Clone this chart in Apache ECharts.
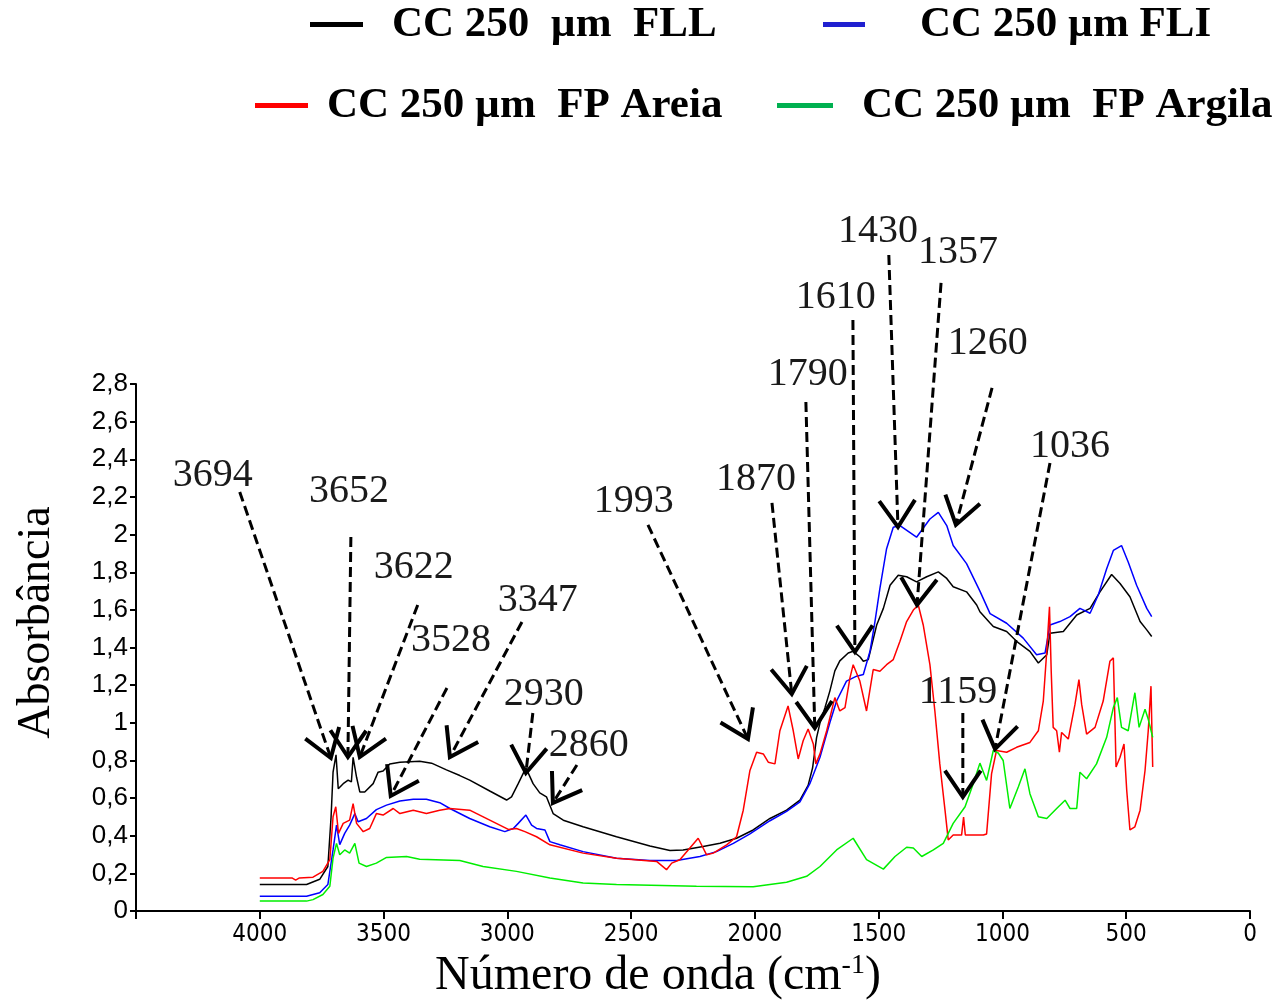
<!DOCTYPE html>
<html>
<head>
<meta charset="utf-8">
<title>Absorbância - CC 250 µm</title>
<script src="https://cdn.jsdelivr.net/npm/echarts@6/dist/echarts.min.js"></script>
<style>
  html, body { margin: 0; padding: 0; background: #fff; }
  #chart { width: 1277px; height: 1005px; }
</style>
</head>
<body>
<div id="chart"></div>
<script>
// nomes das séries (legenda)
const seriesNames = ['CC 250  µm  FLL', 'CC 250 µm FLI', 'CC 250 µm  FP Areia', 'CC 250 µm  FP Argila']

// [número de onda, absorbância]
const fll = [[4000,0.141],[3811,0.141],[3758,0.169],[3725,0.237],[3712,0.50],[3704,0.738],[3692,0.83],[3683,0.65],[3663,0.677],[3643,0.696],[3630,0.686],[3623,0.817],[3609,0.711],[3596,0.633],[3576,0.633],[3542,0.677],[3522,0.738],[3502,0.744],[3475,0.782],[3434,0.791],[3354,0.796],[3306,0.786],[3246,0.750],[3192,0.72],[3152,0.696],[3071,0.638],[3003,0.590],[2983,0.607],[2956,0.677],[2925,0.761],[2896,0.677],[2869,0.628],[2842,0.607],[2815,0.518],[2774,0.483],[2694,0.448],[2559,0.395],[2424,0.346],[2343,0.322],[2290,0.325],[2209,0.343],[2141,0.36],[2074,0.387],[2007,0.431],[1939,0.492],[1872,0.536],[1818,0.589],[1785,0.668],[1767,0.76],[1751,0.92],[1737,1.0],[1717,1.08],[1697,1.17],[1677,1.276],[1657,1.329],[1623,1.371],[1603,1.38],[1575,1.35],[1562,1.327],[1542,1.336],[1508,1.52],[1481,1.608],[1454,1.731],[1421,1.784],[1387,1.776],[1347,1.749],[1306,1.776],[1259,1.802],[1225,1.767],[1199,1.723],[1145,1.696],[1104,1.626],[1091,1.59],[1050,1.53],[1037,1.512],[983,1.485],[943,1.433],[889,1.38],[855,1.318],[821,1.362],[808,1.476],[754,1.485],[700,1.573],[646,1.608],[606,1.696],[559,1.788],[525,1.74],[485,1.67],[444,1.538],[417,1.494],[397,1.459]]

const fli = [[4000,0.079],[3811,0.079],[3758,0.097],[3725,0.141],[3704,0.325],[3690,0.457],[3677,0.353],[3657,0.413],[3637,0.457],[3616,0.518],[3603,0.475],[3569,0.492],[3529,0.539],[3488,0.563],[3434,0.585],[3380,0.594],[3327,0.594],[3273,0.576],[3232,0.545],[3152,0.492],[3071,0.448],[3010,0.422],[2976,0.439],[2956,0.466],[2925,0.510],[2902,0.457],[2882,0.439],[2848,0.431],[2828,0.369],[2788,0.352],[2694,0.316],[2559,0.281],[2424,0.269],[2316,0.269],[2222,0.290],[2155,0.316],[2087,0.360],[2020,0.410],[1939,0.480],[1872,0.53],[1818,0.580],[1778,0.677],[1737,0.817],[1697,1.002],[1670,1.116],[1630,1.222],[1589,1.248],[1562,1.257],[1535,1.38],[1515,1.538],[1495,1.714],[1468,1.925],[1441,2.039],[1414,2.048],[1347,1.986],[1293,2.083],[1259,2.118],[1225,2.048],[1199,1.942],[1145,1.846],[1091,1.70],[1050,1.58],[983,1.529],[916,1.450],[862,1.362],[828,1.371],[808,1.520],[768,1.538],[727,1.564],[687,1.608],[646,1.582],[613,1.679],[579,1.819],[552,1.916],[519,1.942],[492,1.854],[458,1.731],[417,1.608],[397,1.564]]

const fpAreia = [[4000,0.176],[3870,0.176],[3855,0.165],[3840,0.176],[3785,0.18],[3745,0.211],[3717,0.273],[3704,0.501],[3693,0.554],[3682,0.413],[3663,0.466],[3637,0.483],[3623,0.571],[3609,0.466],[3582,0.422],[3556,0.439],[3529,0.518],[3502,0.510],[3461,0.545],[3434,0.518],[3380,0.536],[3327,0.518],[3273,0.536],[3232,0.545],[3152,0.536],[3071,0.483],[2996,0.434],[2963,0.439],[2929,0.422],[2882,0.395],[2828,0.352],[2694,0.308],[2559,0.281],[2397,0.264],[2357,0.220],[2336,0.255],[2303,0.273],[2229,0.387],[2195,0.299],[2168,0.308],[2114,0.352],[2074,0.395],[2047,0.536],[2020,0.747],[1993,0.844],[1966,0.835],[1946,0.791],[1919,0.782],[1899,0.958],[1866,1.09],[1845,0.958],[1825,0.808],[1805,0.905],[1785,0.967],[1764,0.888],[1754,0.782],[1737,0.835],[1710,0.958],[1677,1.134],[1657,1.063],[1636,1.081],[1616,1.239],[1603,1.309],[1576,1.222],[1549,1.063],[1522,1.283],[1495,1.274],[1468,1.309],[1441,1.336],[1414,1.433],[1387,1.538],[1360,1.599],[1340,1.626],[1320,1.52],[1293,1.309],[1273,1.063],[1253,0.782],[1232,0.536],[1219,0.378],[1199,0.404],[1165,0.404],[1157,0.50],[1150,0.404],[1118,0.404],[1077,0.404],[1064,0.41],[1044,0.729],[1024,0.853],[983,0.844],[943,0.870],[889,0.896],[855,0.958],[835,1.116],[821,1.38],[810,1.617],[803,1.274],[795,0.976],[781,0.958],[770,0.844],[761,0.949],[734,0.914],[707,1.098],[691,1.230],[680,1.098],[660,0.940],[626,0.976],[593,1.116],[566,1.327],[552,1.345],[541,0.765],[525,0.817],[509,0.888],[498,0.642],[485,0.431],[465,0.448],[444,0.536],[424,0.747],[411,0.958],[400,1.195],[393,0.765]]

const fpArgila = [[4000,0.053],[3811,0.053],[3785,0.061],[3745,0.088],[3717,0.132],[3704,0.281],[3690,0.36],[3677,0.299],[3657,0.325],[3637,0.308],[3616,0.36],[3599,0.255],[3569,0.237],[3529,0.255],[3488,0.285],[3407,0.29],[3354,0.276],[3192,0.269],[3098,0.237],[2963,0.211],[2828,0.176],[2694,0.149],[2559,0.141],[2236,0.132],[2007,0.129],[1872,0.153],[1791,0.185],[1737,0.237],[1670,0.325],[1603,0.387],[1549,0.273],[1481,0.223],[1434,0.290],[1387,0.339],[1360,0.335],[1326,0.29],[1279,0.325],[1239,0.36],[1199,0.466],[1151,0.554],[1118,0.677],[1091,0.786],[1064,0.694],[1037,0.853],[1017,0.84],[997,0.8],[970,0.545],[936,0.659],[909,0.756],[889,0.624],[855,0.501],[821,0.492],[781,0.545],[747,0.589],[727,0.545],[700,0.545],[687,0.738],[660,0.703],[620,0.782],[579,0.923],[552,1.081],[536,1.134],[519,0.976],[492,0.958],[465,1.160],[448,0.976],[424,1.072],[411,1.019],[393,0.923]]

// bandas marcadas com setas: texto, posição do texto, início da seta, ponta da seta
const peakLabels = ['3694','3652','3622','3528','3347','2930','2860','1993','1870','1790','1610','1430','1357','1260','1036','1159']
const labelPos = [[4190,2.320],[3640,2.231],[3378,1.830],[3228,1.445],[2877,1.656],[2853,1.165],[2671,0.896],[2489,2.178],[1996,2.294],[1786,2.848],[1673,3.254],[1503,3.602],[1180,3.491],[1059,3.011],[727,2.473],[1180,1.171]]
const arrowFrom = [[4081,2.231],[3632,1.993],[3362,1.635],[3244,1.197],[2941,1.545],[2897,1.065],[2719,0.791],[2432,2.057],[1931,2.173],[1794,2.705],[1604,3.138],[1459,3.480],[1248,3.333],[1042,2.779],[808,2.383],[1160,1.065]]
const arrowTo = [[3713,0.828],[3644,0.833],[3596,0.833],[3471,0.628],[3232,0.833],[2925,0.749],[2816,0.591],[2028,0.928],[1851,1.165],[1758,0.986],[1596,1.387],[1422,2.046],[1345,1.635],[1188,2.057],[1030,0.875],[1160,0.622]]

const xTicks = [0, 500, 1000, 1500, 2000, 2500, 3000, 3500, 4000]

const serif = '"Liberation Serif", "Times New Roman", serif'
const narrow = '"Liberation Sans Narrow", "DejaVu Sans Condensed", "Liberation Sans", Arial, sans-serif'

function renderPeak(params, api) {
  const lab = api.coord([api.value(0), api.value(1)])
  const s = api.coord([api.value(2), api.value(3)])
  const t = api.coord([api.value(4), api.value(5)])
  const dx = t[0] - s[0], dy = t[1] - s[1]
  const len = Math.sqrt(dx * dx + dy * dy)
  const bx = -dx / len, by = -dy / len
  const a = 34 * Math.PI / 180, L = 32
  const arm = sg => [
    t[0] + L * (bx * Math.cos(a) - sg * by * Math.sin(a)),
    t[1] + L * (sg * bx * Math.sin(a) + by * Math.cos(a))
  ]
  return {
    type: 'group',
    children: [
      {type: 'line', shape: {x1: s[0], y1: s[1], x2: t[0], y2: t[1]},
        style: {stroke: '#000', lineWidth: 3, lineDash: [10, 5]}},
      {type: 'polyline', shape: {points: [arm(1), t, arm(-1)]},
        style: {stroke: '#000', lineWidth: 4, fill: 'none', lineJoin: 'miter'}},
      {type: 'text', x: lab[0], y: lab[1],
        style: {text: peakLabels[params.dataIndex], fill: '#1a1a1a', font: '40px ' + serif,
          align: 'center', verticalAlign: 'middle'}}
    ]
  }
}

function legendItem(idx, left, top, w, gap, color) {
  return {
    data: [{name: seriesNames[idx], itemStyle: {color: color}}],
    left: left, top: top,
    icon: 'rect', itemWidth: w, itemHeight: 5,
    selectedMode: false,
    textStyle: {fontFamily: serif, fontWeight: 'bold', fontSize: 43, color: '#000', padding: [0, 0, 0, gap]}
  }
}

const chart = echarts.init(document.getElementById('chart'))
const peakData = peakLabels.map((p, i) => labelPos[i].concat(arrowFrom[i], arrowTo[i]))

chart.setOption({
  backgroundColor: '#fff',
  animation: false,
  legend: [
    legendItem(0, 305, -2, 53, 24, '#000'),
    legendItem(1, 818, -2, 42, 50, '#2020d0'),
    legendItem(2, 250, 79, 53, 14, '#ff0000'),
    legendItem(3, 772, 79, 56, 24, '#00b050')
  ],
  grid: [
    {left: 136, right: 27, top: 384, bottom: 90},
    {left: 136, right: 27, top: 156.43, bottom: 90}
  ],
  xAxis: [
    {
      type: 'value', gridIndex: 0, min: 0, max: 4500, interval: 500, inverse: true,
      name: 'Número de onda (cm{sup|-1})', nameLocation: 'middle', nameGap: 35,
      nameTextStyle: {fontFamily: serif, fontSize: 48, color: '#000', padding: [0, 70, 0, 0],
        rich: {sup: {fontFamily: serif, fontSize: 28, verticalAlign: 'top', padding: [0, 0, 14, 0]}}},
      splitLine: {show: false},
      axisLine: {onZero: false, lineStyle: {color: '#000', width: 2}},
      axisTick: {length: 8, lineStyle: {color: '#000', width: 2}},
      axisLabel: {
        margin: 12, fontFamily: narrow, fontSize: 24, color: '#000',
        formatter: v => xTicks.indexOf(v) >= 0 ? String(v) : ''
      }
    },
    {type: 'value', gridIndex: 1, min: 0, max: 4500, inverse: true, show: false}
  ],
  yAxis: [
    {
      type: 'value', gridIndex: 0, min: 0, max: 2.8, interval: 0.2,
      name: 'Absorbância', nameLocation: 'middle', nameGap: 76,
      nameTextStyle: {fontFamily: serif, fontSize: 46, color: '#000', padding: [0, 0, 0, 50]},
      splitLine: {show: false},
      axisLine: {show: true, onZero: false, lineStyle: {color: '#000', width: 2}},
      axisTick: {show: true, length: 6, lineStyle: {color: '#000', width: 2}},
      axisLabel: {
        margin: 8, fontFamily: '"Liberation Sans", Arial, sans-serif', fontSize: 26, color: '#000',
        formatter: v => String(Math.round(v * 10) / 10).replace('.', ',')
      }
    },
    {type: 'value', gridIndex: 1, min: 0, max: 4.0, show: false}
  ],
  series: [
    {name: seriesNames[0], type: 'line', data: fll, showSymbol: false, color: '#000',
      lineStyle: {width: 1.5}},
    {name: seriesNames[1], type: 'line', data: fli, showSymbol: false, color: '#0000ff',
      lineStyle: {width: 1.5}},
    {name: seriesNames[2], type: 'line', data: fpAreia, showSymbol: false, color: '#ff0000',
      lineStyle: {width: 1.5}},
    {name: seriesNames[3], type: 'line', data: fpArgila, showSymbol: false, color: '#00ee00',
      lineStyle: {width: 1.5}},
    {
      type: 'custom', xAxisIndex: 1, yAxisIndex: 1, silent: true,
      renderItem: renderPeak, data: peakData,
      encode: {x: [0, 2, 4], y: [1, 3, 5]}, z: 5
    }
  ]
})

window.onresize = function () {
  chart.resize()
}
</script>
</body>
</html>
